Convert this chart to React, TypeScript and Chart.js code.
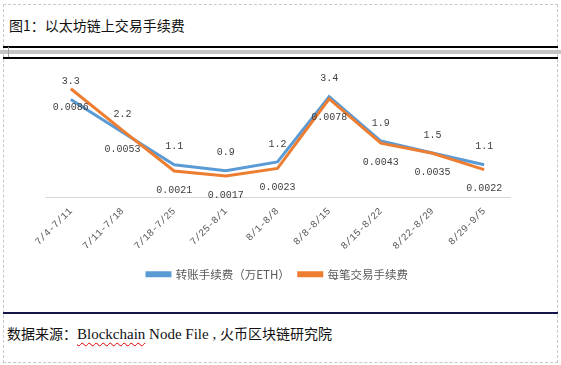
import React, { useEffect, useRef } from "react";
import { Chart, registerables } from "chart.js";

Chart.register(...registerables);

const categories = [
  "7/4-7/11",
  "7/11-7/18",
  "7/18-7/25",
  "7/25-8/1",
  "8/1-8/8",
  "8/8-8/15",
  "8/15-8/22",
  "8/22-8/29",
  "8/29-9/5",
];
const transferFee = [3.3, 2.2, 1.1, 0.9, 1.2, 3.4, 1.9, 1.5, 1.1];
const perTxFee = [0.0086, 0.0053, 0.0021, 0.0017, 0.0023, 0.0078, 0.0043, 0.0035, 0.0022];
const seriesNames = ["转账手续费（万ETH）", "每笔交易手续费"];

const CJK = '"Noto Sans CJK SC", "Noto Sans", sans-serif';
const MONO = '"Liberation Mono", "DejaVu Sans Mono", monospace';

const labelPlugin = {
  id: "valueLabels",
  afterDatasetsDraw(chart: any) {
    const ctx = chart.ctx;
    ctx.save();
    ctx.font = `10px ${MONO}`;
    ctx.fillStyle = "#404040";
    ctx.textAlign = "center";
    ctx.textBaseline = "middle";
    chart.data.datasets.forEach((ds: any, di: number) => {
      const meta = chart.getDatasetMeta(di);
      meta.data.forEach((pt: any, i: number) => {
        const v = ds.data[i] as number;
        const txt = di === 0 ? v.toFixed(1) : v.toFixed(4);
        const dy = di === 0 ? -18 : 19;
        ctx.fillText(txt, pt.x, pt.y + dy);
      });
    });
    ctx.restore();
  },
};

function ChartBox() {
  const ref = useRef<HTMLCanvasElement | null>(null);
  useEffect(() => {
    if (!ref.current) return;
    const chart = new Chart(ref.current, {
      type: "line",
      data: {
        labels: categories,
        datasets: [
          {
            label: seriesNames[0],
            data: transferFee,
            borderColor: "#5B9BD5",
            backgroundColor: "#5B9BD5",
            borderWidth: 3,
            pointRadius: 0,
            tension: 0,
            yAxisID: "y",
            order: 1,
          },
          {
            label: seriesNames[1],
            data: perTxFee,
            borderColor: "#ED7D31",
            backgroundColor: "#ED7D31",
            borderWidth: 3,
            pointRadius: 0,
            tension: 0,
            yAxisID: "y1",
            order: 0,
          },
        ],
      },
      options: {
        animation: false,
        responsive: false,
        maintainAspectRatio: false,
        layout: { padding: { left: 41, right: 46, top: 11, bottom: 20 } },
        plugins: {
          tooltip: { enabled: false },
          legend: {
            position: "bottom",
            labels: {
              boxWidth: 23,
              boxHeight: 3,
              padding: 9,
              color: "#595959",
              font: { family: CJK, size: 11.5 },
              sort: (a: any, b: any) => a.datasetIndex - b.datasetIndex,
            },
          },
        },
        scales: {
          x: {
            offset: true,
            grid: { display: false, drawTicks: false },
            border: { display: true, color: "#d9d9d9", width: 1 },
            ticks: {
              minRotation: 45,
              maxRotation: 45,
              autoSkip: false,
              padding: 8,
              color: "#595959",
              font: { family: MONO, size: 10 },
            },
            afterFit: (scale: any) => {
              scale.height = 62;
            },
          },
          y: { display: false, min: 0, max: 4.26 },
          y1: { display: false, min: 0, max: 0.01 },
        },
      },
      plugins: [labelPlugin],
    });
    return () => chart.destroy();
  }, []);
  return (
    <canvas
      ref={ref}
      width={552}
      height={250}
      style={{ position: "absolute", left: 4, top: 60, width: 552, height: 250 }}
    />
  );
}

export default function App() {
  return (
    <div
      style={{
        position: "fixed",
        left: 0,
        top: 0,
        width: 561,
        height: 365,
        background: "#fff",
        overflow: "hidden",
      }}
    >
      <div
        style={{
          position: "absolute",
          left: 3,
          top: 4,
          width: 553,
          height: 357,
          border: "1px dashed #c8c8c8",
        }}
      />
      <div
        style={{
          position: "absolute",
          left: 9,
          top: 15,
          fontFamily: CJK,
          fontSize: 14,
          lineHeight: "20px",
          color: "#111",
          whiteSpace: "nowrap",
        }}
      >
        图1：以太坊链上交易手续费
      </div>
      <div style={{ position: "absolute", left: 3, top: 46, width: 555, height: 1.5, background: "#000" }} />
      <div style={{ position: "absolute", left: 0, top: 50, width: 561, height: 4, background: "#c4c4c4" }} />
      <div style={{ position: "absolute", left: 8, top: 47, width: 1, height: 10, background: "#a0a0a0" }} />
      <div style={{ position: "absolute", left: 3, top: 57, width: 555, height: 1.5, background: "#000" }} />
      <ChartBox />
      <div style={{ position: "absolute", left: 3, top: 312, width: 555, height: 1.5, background: "#15154a" }} />
      <div
        style={{
          position: "absolute",
          left: 7,
          top: 323,
          fontSize: 14,
          lineHeight: "20px",
          color: "#111",
          whiteSpace: "nowrap",
        }}
      >
        <span style={{ fontFamily: CJK }}>数据来源：</span>
        <span style={{ fontFamily: '"Liberation Serif", serif', fontSize: 15 }}>
          <span
            style={{
              textDecorationLine: "underline",
              textDecorationStyle: "wavy",
              textDecorationColor: "#e00000",
              textDecorationThickness: "1px",
              textUnderlineOffset: "3px",
            }}
          >
            Blockchain
          </span>{" "}
          Node File ,{" "}
        </span>
        <span style={{ fontFamily: CJK }}>火币区块链研究院</span>
      </div>
    </div>
  );
}
